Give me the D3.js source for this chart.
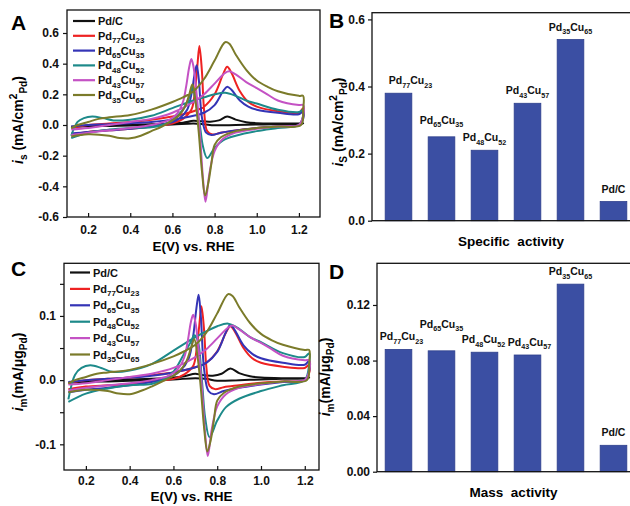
<!DOCTYPE html>
<html>
<head>
<meta charset="utf-8">
<script src="https://cdn.jsdelivr.net/npm/d3@7"></script>
<style>
  body { margin: 0; background: #fff; }
  svg { display: block; font-family: "Liberation Sans", Arial, sans-serif; font-weight: bold; }
</style>
</head>
<body>
<svg id="fig" width="630" height="506"></svg>
<script>
// sample names, legend order
const samples = ["Pd/C", "Pd77Cu23", "Pd65Cu35", "Pd48Cu52", "Pd43Cu57", "Pd35Cu65"];
const lineColors = ["#111111", "#ee2222", "#3434b6", "#1d8a8a", "#c452c4", "#7b7b2a"];

// CV curves, panel A (specific current, mA/cm2), [E, i], forward scan then reverse
const aPdC = [[0.12,-0.012],[0.2,-0.005],[0.3,0.0],[0.4,0.003],[0.5,0.005],[0.6,0.01],[0.65,0.015],[0.7,0.028],[0.73,0.025],[0.78,0.022],[0.82,0.03],[0.86,0.055],[0.9,0.035],[0.95,0.018],[1.0,0.012],[1.1,0.01],[1.2,0.01],[1.22,0.012],
  [1.21,0.008],[1.1,0.005],[1.0,0.003],[0.9,0.0],[0.8,-0.002],[0.75,0.005],[0.7,0.01],[0.6,0.003],[0.5,0.0],[0.4,-0.003],[0.3,-0.006],[0.2,-0.008],[0.12,-0.012]];
const aPd77 = [[0.12,-0.02],[0.2,0.0],[0.3,0.01],[0.4,0.02],[0.5,0.035],[0.6,0.055],[0.7,0.09],[0.75,0.12],[0.8,0.2],[0.84,0.33],[0.86,0.38],[0.88,0.34],[0.92,0.22],[0.96,0.15],[1.0,0.12],[1.1,0.09],[1.2,0.08],[1.22,0.11],
  [1.22,0.05],[1.2,0.0],[1.1,-0.01],[1.0,-0.02],[0.9,-0.035],[0.83,-0.05],[0.79,-0.062],[0.765,-0.04],[0.75,0.1],[0.74,0.35],[0.728,0.515],[0.718,0.38],[0.705,0.2],[0.69,0.1],[0.65,0.04],[0.6,0.01],[0.5,-0.01],[0.4,-0.025],[0.3,-0.035],[0.2,-0.045],[0.12,-0.06]];
const aPd65 = [[0.12,-0.01],[0.2,0.0],[0.3,0.005],[0.4,0.012],[0.5,0.02],[0.6,0.035],[0.7,0.06],[0.75,0.08],[0.8,0.13],[0.84,0.22],[0.86,0.25],[0.88,0.23],[0.92,0.16],[0.96,0.12],[1.0,0.1],[1.1,0.08],[1.2,0.07],[1.22,0.09],
  [1.22,0.04],[1.2,0.0],[1.1,-0.01],[1.0,-0.02],[0.9,-0.035],[0.83,-0.05],[0.785,-0.065],[0.76,-0.05],[0.74,0.05],[0.725,0.3],[0.715,0.39],[0.705,0.33],[0.69,0.2],[0.67,0.1],[0.63,0.04],[0.6,0.02],[0.5,-0.01],[0.4,-0.025],[0.3,-0.035],[0.2,-0.045],[0.12,-0.055]];
const aPd48 = [[0.12,-0.07],[0.15,0.02],[0.18,0.045],[0.22,0.055],[0.27,0.045],[0.32,0.03],[0.4,0.035],[0.5,0.06],[0.6,0.11],[0.7,0.16],[0.75,0.18],[0.8,0.2],[0.85,0.21],[0.9,0.19],[0.95,0.16],[1.0,0.14],[1.1,0.1],[1.2,0.085],[1.22,0.1],
  [1.22,0.06],[1.2,0.0],[1.1,-0.02],[1.0,-0.04],[0.9,-0.07],[0.84,-0.1],[0.8,-0.15],[0.765,-0.215],[0.745,-0.14],[0.73,0.0],[0.71,0.15],[0.695,0.25],[0.68,0.18],[0.65,0.1],[0.6,0.03],[0.55,0.0],[0.5,-0.015],[0.4,-0.02],[0.3,-0.03],[0.2,-0.05],[0.12,-0.085]];
const aPd43 = [[0.12,-0.03],[0.2,-0.02],[0.3,0.0],[0.4,0.02],[0.5,0.04],[0.6,0.08],[0.7,0.15],[0.75,0.2],[0.8,0.27],[0.85,0.34],[0.87,0.35],[0.9,0.33],[0.95,0.28],[1.0,0.24],[1.05,0.2],[1.1,0.16],[1.2,0.13],[1.22,0.13],
  [1.22,0.06],[1.2,0.0],[1.1,-0.01],[1.0,-0.025],[0.9,-0.05],[0.84,-0.09],[0.8,-0.17],[0.775,-0.32],[0.757,-0.5],[0.745,-0.35],[0.73,-0.05],[0.715,0.2],[0.7,0.38],[0.69,0.43],[0.68,0.38],[0.665,0.25],[0.65,0.15],[0.62,0.07],[0.58,0.03],[0.5,0.0],[0.4,-0.02],[0.3,-0.035],[0.2,-0.05],[0.12,-0.065]];
const aPd35 = [[0.12,-0.02],[0.15,0.0],[0.2,0.02],[0.25,0.04],[0.3,0.05],[0.4,0.065],[0.5,0.1],[0.6,0.15],[0.65,0.18],[0.7,0.22],[0.75,0.3],[0.8,0.42],[0.85,0.54],[0.87,0.53],[0.9,0.46],[0.95,0.36],[1.0,0.29],[1.05,0.25],[1.1,0.22],[1.2,0.19],[1.22,0.19],
  [1.22,0.1],[1.21,0.0],[1.1,-0.01],[1.0,-0.02],[0.9,-0.04],[0.83,-0.08],[0.8,-0.13],[0.785,-0.25],[0.77,-0.38],[0.755,-0.46],[0.74,-0.3],[0.725,-0.05],[0.71,0.15],[0.695,0.265],[0.68,0.2],[0.66,0.12],[0.63,0.06],[0.6,0.03],[0.55,-0.01],[0.5,-0.04],[0.45,-0.07],[0.4,-0.087],[0.35,-0.085],[0.3,-0.07],[0.2,-0.06],[0.12,-0.075]];

// CV curves, panel C (mass current, mA/ug)
const cPdC = [[0.12,-0.004],[0.2,-0.002],[0.3,0.0],[0.4,0.001],[0.5,0.002],[0.6,0.004],[0.65,0.006],[0.7,0.01],[0.73,0.008],[0.78,0.007],[0.82,0.01],[0.86,0.018],[0.9,0.011],[0.95,0.006],[1.0,0.004],[1.1,0.003],[1.2,0.003],[1.22,0.004],
  [1.21,0.003],[1.1,0.002],[1.0,0.001],[0.9,0.0],[0.8,-0.001],[0.75,0.002],[0.7,0.003],[0.6,0.001],[0.5,0.0],[0.4,-0.001],[0.3,-0.002],[0.2,-0.003],[0.12,-0.004]];
const cPd77 = [[0.12,-0.005],[0.2,0.0],[0.3,0.002],[0.4,0.004],[0.5,0.008],[0.6,0.012],[0.7,0.02],[0.75,0.027],[0.8,0.045],[0.84,0.074],[0.86,0.084],[0.88,0.076],[0.92,0.05],[0.96,0.034],[1.0,0.027],[1.1,0.021],[1.2,0.019],[1.22,0.024],
  [1.22,0.011],[1.2,0.0],[1.1,-0.002],[1.0,-0.004],[0.9,-0.008],[0.83,-0.011],[0.79,-0.014],[0.765,-0.009],[0.75,0.022],[0.74,0.078],[0.728,0.115],[0.718,0.085],[0.705,0.045],[0.69,0.022],[0.65,0.009],[0.6,0.002],[0.5,-0.002],[0.4,-0.006],[0.3,-0.008],[0.2,-0.01],[0.12,-0.014]];
const cPd65 = [[0.12,-0.003],[0.2,0.0],[0.3,0.002],[0.4,0.004],[0.5,0.007],[0.6,0.012],[0.7,0.02],[0.75,0.027],[0.8,0.044],[0.84,0.075],[0.86,0.086],[0.88,0.078],[0.92,0.054],[0.96,0.041],[1.0,0.034],[1.1,0.027],[1.2,0.024],[1.22,0.03],
  [1.22,0.014],[1.2,0.0],[1.1,-0.003],[1.0,-0.007],[0.9,-0.012],[0.83,-0.017],[0.785,-0.022],[0.76,-0.017],[0.74,0.017],[0.725,0.1],[0.715,0.133],[0.705,0.112],[0.69,0.068],[0.67,0.034],[0.63,0.014],[0.6,0.007],[0.5,-0.003],[0.4,-0.008],[0.3,-0.012],[0.2,-0.015],[0.12,-0.019]];
const cPd48 = [[0.12,-0.03],[0.15,0.008],[0.18,0.019],[0.22,0.023],[0.27,0.019],[0.32,0.013],[0.4,0.015],[0.5,0.025],[0.6,0.046],[0.7,0.067],[0.75,0.076],[0.8,0.084],[0.85,0.088],[0.9,0.08],[0.95,0.067],[1.0,0.059],[1.1,0.042],[1.2,0.036],[1.22,0.042],
  [1.22,0.025],[1.2,0.0],[1.1,-0.008],[1.0,-0.017],[0.9,-0.029],[0.84,-0.042],[0.8,-0.063],[0.765,-0.089],[0.745,-0.059],[0.73,0.0],[0.71,0.063],[0.695,0.07],[0.68,0.06],[0.65,0.042],[0.6,0.013],[0.55,0.0],[0.5,-0.006],[0.4,-0.008],[0.3,-0.013],[0.2,-0.021],[0.12,-0.034]];
const cPd43 = [[0.12,-0.007],[0.2,-0.005],[0.3,0.0],[0.4,0.005],[0.5,0.01],[0.6,0.019],[0.7,0.036],[0.75,0.048],[0.8,0.065],[0.85,0.082],[0.87,0.085],[0.9,0.079],[0.95,0.067],[1.0,0.058],[1.05,0.048],[1.1,0.038],[1.2,0.031],[1.22,0.031],
  [1.22,0.014],[1.2,0.0],[1.1,-0.002],[1.0,-0.006],[0.9,-0.012],[0.84,-0.022],[0.8,-0.041],[0.775,-0.077],[0.757,-0.118],[0.745,-0.084],[0.73,-0.012],[0.715,0.048],[0.7,0.091],[0.69,0.102],[0.68,0.091],[0.665,0.06],[0.65,0.036],[0.62,0.017],[0.58,0.007],[0.5,0.0],[0.4,-0.005],[0.3,-0.008],[0.2,-0.012],[0.12,-0.016]];
const cPd35 = [[0.12,-0.005],[0.15,0.0],[0.2,0.005],[0.25,0.01],[0.3,0.012],[0.4,0.016],[0.5,0.025],[0.6,0.037],[0.65,0.045],[0.7,0.055],[0.75,0.074],[0.8,0.104],[0.85,0.134],[0.87,0.131],[0.9,0.114],[0.95,0.089],[1.0,0.072],[1.05,0.062],[1.1,0.055],[1.2,0.047],[1.22,0.047],
  [1.22,0.025],[1.21,0.0],[1.1,-0.002],[1.0,-0.005],[0.9,-0.01],[0.83,-0.02],[0.8,-0.032],[0.785,-0.062],[0.77,-0.094],[0.755,-0.111],[0.74,-0.074],[0.725,-0.012],[0.71,0.037],[0.695,0.064],[0.68,0.05],[0.66,0.03],[0.63,0.015],[0.6,0.007],[0.55,-0.002],[0.5,-0.01],[0.45,-0.017],[0.4,-0.022],[0.35,-0.021],[0.3,-0.017],[0.2,-0.015],[0.12,-0.019]];

// bar charts
const barCats = ["Pd77Cu23", "Pd65Cu35", "Pd48Cu52", "Pd43Cu57", "Pd35Cu65", "Pd/C"];
const specActivity = [0.38, 0.25, 0.21, 0.35, 0.54, 0.057];
const massActivity = [0.088, 0.087, 0.086, 0.084, 0.135, 0.019];

// ticks
const cvTicksX = [0.2, 0.4, 0.6, 0.8, 1.0, 1.2];
const aTicksY = [-0.6, -0.4, -0.2, 0.0, 0.2, 0.4, 0.6];
const cTicksY = [-0.1, -0.05, 0.0, 0.05, 0.1, 0.15];
const bTicksY = [0.0, 0.2, 0.4, 0.6];
const dTicksY = [0.00, 0.04, 0.08, 0.12];

const svg = d3.select("#fig");
const fmt = (d, n) => d.toFixed(n).replace("\u2212", "-");

// writes "Pd77Cu23" as Pd + sub 77 + Cu + sub 23
function chemParts(s) {
  const out = [];
  const re = /([^\d]+)(\d*)/g;
  let m;
  while ((m = re.exec(s)) && m[0]) {
    out.push([m[1], "n"]);
    if (m[2]) out.push([m[2], "sub"]);
  }
  return out;
}
function rich(text, parts, fs, subScale = 0.72) {
  let shift = 0;
  parts.forEach(([t, k]) => {
    const target = k === "sub" ? fs * 0.32 : k === "sup" ? -fs * 0.4 : 0;
    const ts = text.append("tspan").text(t)
      .attr("dy", target - shift)
      .attr("font-size", (k === "n" || k === "i") ? fs : fs * subScale);
    if (k === "i") ts.attr("font-style", "italic");
    shift = target;
  });
}

function panelLetter(x, y, s) {
  svg.append("text").attr("x", x).attr("y", y).attr("font-size", 21).text(s);
}

function yTitle(x, y, parts) {
  const t = svg.append("text").attr("transform", `translate(${x},${y}) rotate(-90)`)
    .attr("text-anchor", "middle");
  rich(t, parts, 14);
}

function drawCV(opt) {
  const { x, y, curves, ticksY, labelEvery, dec, legend, id, titleDy, pad } = opt;
  const g = svg.append("g");
  const [x0, x1] = x.range(), [y0, y1] = y.range();

  g.append("clipPath").attr("id", id).append("rect")
    .attr("x", x0).attr("y", y1).attr("width", x1 - x0).attr("height", y0 - y1);

  const line = d3.line().x(d => x(d[0])).y(d => y(d[1])).curve(d3.curveCatmullRom.alpha(0.5));
  g.append("g").attr("clip-path", `url(#${id})`)
    .selectAll("path").data(curves).join("path")
    .attr("d", d => line(d))
    .attr("fill", "none")
    .attr("stroke", (d, i) => lineColors[i])
    .attr("stroke-width", 2)
    .attr("stroke-linejoin", "round");

  // axes
  const ax = g.append("g").attr("transform", `translate(0,${y0})`)
    .call(d3.axisBottom(x).tickValues(cvTicksX).tickSize(-4).tickPadding(pad).tickFormat(d => fmt(d, 1)));
  const ay = g.append("g").attr("transform", `translate(${x0},0)`)
    .call(d3.axisLeft(y).tickValues(ticksY).tickSize(4).tickPadding(4)
      .tickFormat(d => labelEvery(d) ? fmt(d, dec) : ""));
  [ax, ay].forEach(a => {
    a.select(".domain").remove();
    a.selectAll("text").attr("font-size", 12).attr("font-family", null).attr("fill", "#111");
    a.selectAll("line").attr("stroke", "#111").attr("stroke-width", 1.2);
  });

  g.append("rect").attr("x", x0).attr("y", y1).attr("width", x1 - x0).attr("height", y0 - y1)
    .attr("fill", "none").attr("stroke", "#111").attr("stroke-width", 1.3);

  // legend
  samples.forEach((s, i) => {
    const ly = legend.y + i * legend.step;
    g.append("line").attr("x1", legend.x).attr("x2", legend.x + legend.len)
      .attr("y1", ly).attr("y2", ly).attr("stroke", lineColors[i]).attr("stroke-width", 2.2);
    const t = g.append("text").attr("x", legend.x + legend.len + 3).attr("y", ly + 4).attr("fill", "#111");
    rich(t, chemParts(s), 11);
  });

  svg.append("text").attr("x", (x0 + x1) / 2).attr("y", y0 + titleDy).attr("text-anchor", "middle")
    .attr("font-size", 13.5).text("E(V) vs. RHE");
}

function drawBars(opt) {
  const { x, y, values, ticksY, dec, labelLift, labelShift, title } = opt;
  const g = svg.append("g");
  const [y0, y1] = y.range();
  const left = opt.left, right = 660;

  g.selectAll("rect.bar").data(values).join("rect").attr("class", "bar")
    .attr("x", (d, i) => x(barCats[i])).attr("width", x.bandwidth())
    .attr("y", d => y(d)).attr("height", d => y0 - y(d))
    .attr("fill", "#3b4fa3").attr("stroke", "#2d3f8c").attr("stroke-width", 0.8);

  values.forEach((v, i) => {
    const t = g.append("text")
      .attr("x", x(barCats[i]) + x.bandwidth() / 2 + (labelShift[i] || 0))
      .attr("y", y(v) - 9 - (labelLift[i] || 0))
      .attr("text-anchor", "middle").attr("fill", "#111");
    rich(t, chemParts(barCats[i]), 10.5, 0.68);
  });

  const ay = g.append("g").attr("transform", `translate(${left},0)`)
    .call(d3.axisLeft(y).tickValues(ticksY).tickSize(4).tickPadding(3).tickFormat(d => fmt(d, dec)));
  ay.select(".domain").remove();
  ay.selectAll("text").attr("font-size", 12).attr("font-family", null).attr("fill", "#111");
  ay.selectAll("line").attr("stroke", "#111").attr("stroke-width", 1.2);

  g.append("rect").attr("x", left).attr("y", y1).attr("width", right - left).attr("height", y0 - y1)
    .attr("fill", "none").attr("stroke", "#111").attr("stroke-width", 1.3);

  svg.append("text").attr("x", (left + 650) / 2).attr("y", y0 + 25).attr("text-anchor", "middle")
    .attr("font-size", 13.5).text(title);
}

// ---- panel A
drawCV({
  id: "clipA", titleDy: 34, pad: 8,
  x: d3.scaleLinear().domain([0.1, 1.3]).range([67, 320]),
  y: d3.scaleLinear().domain([-0.6, 0.75]).range([217, 10]),
  curves: [aPdC, aPd77, aPd65, aPd48, aPd43, aPd35],
  ticksY: aTicksY, labelEvery: d => true, dec: 1,
  legend: { x: 73, y: 21, step: 14.8, len: 22 }
});
panelLetter(11, 30, "A");
yTitle(23, 120, [["i", "i"], ["s", "sub"], [" (mA/cm", "n"], ["2", "sup"], ["Pd", "sub"], [")", "n"]]);

// ---- panel C
drawCV({
  id: "clipC", titleDy: 31, pad: 6,
  x: d3.scaleLinear().domain([0.1, 1.265]).range([64, 319]),
  y: d3.scaleLinear().domain([-0.14, 0.182]).range([470, 263.3]),
  curves: [cPdC, cPd77, cPd65, cPd48, cPd43, cPd35],
  ticksY: cTicksY, labelEvery: d => Math.abs(Math.round(d * 10) - d * 10) < 1e-6 && Math.abs(d) < 0.12, dec: 1,
  legend: { x: 70, y: 272.5, step: 16.4, len: 20 }
});
panelLetter(11, 276, "C");
yTitle(23, 372, [["i", "i"], ["m", "sub"], ["(mA/\u03bcg", "n"], ["Pd", "sub"], [")", "n"]]);

// ---- panel B
const xBar = d3.scaleBand().domain(barCats).range([377, 635]).paddingInner(0.38).paddingOuter(0.19);
drawBars({
  x: xBar, left: 372,
  y: d3.scaleLinear().domain([0, 0.62]).range([220.7, 12.7]),
  values: specActivity, ticksY: bTicksY, dec: 1,
  labelLift: { 1: 4 }, labelShift: { 0: 12 },
  title: "Specific\u00a0\u00a0activity"
});
panelLetter(329, 28, "B");
yTitle(343, 122, [["i", "i"], ["S", "sub"], [" (mA/cm", "n"], ["2", "sup"], ["Pd", "sub"], [")", "n"]]);

// ---- panel D
drawBars({
  x: xBar, left: 377,
  y: d3.scaleLinear().domain([0, 0.15]).range([471.7, 263.3]),
  values: massActivity, ticksY: dTicksY, dec: 2,
  labelLift: { 1: 14 }, labelShift: { 0: 3, 2: -1, 3: 2 },
  title: "Mass\u00a0\u00a0activity"
});
panelLetter(329, 279, "D");
yTitle(330, 377, [["i", "i"], ["m", "sub"], ["(mA/\u03bcg", "n"], ["Pd", "sub"], [")", "n"]]);
</script>
</body>
</html>
